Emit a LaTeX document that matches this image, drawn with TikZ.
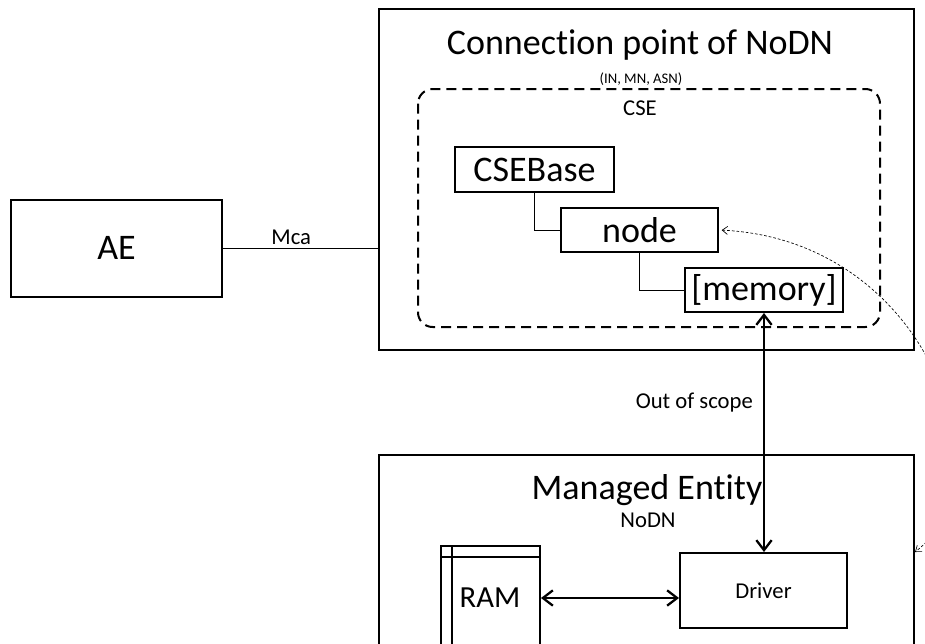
\documentclass[tikz,border=0pt]{standalone}
\usepackage{fontspec}
\setmainfont{Carlito}[Ligatures=NoCommon]
\usetikzlibrary{arrows.meta}

\begin{document}
\begin{tikzpicture}[x=0.75pt,y=-0.75pt,
  box/.style={draw,line width=1.5pt,inner sep=0pt},
  big/.style={font=\fontsize{27}{32}\selectfont},
  mid/.style={font=\fontsize{17}{20}\selectfont},
  link/.style={line width=0.75pt},
  twoway/.style={line width=1.7pt,{Straight Barb[length=7.5pt,width=11.5pt]}-{Straight Barb[length=7.5pt,width=11.5pt]}}]
\useasboundingbox (0,0) rectangle (925,643);
\clip (0,0) rectangle (925,643);

% left side
\node[box,big,minimum width=158.25pt,minimum height=72.75pt] (ae) at (116.5,248) {AE};

% connection point
\node[box,minimum width=401.25pt,minimum height=255.75pt] (cp) at (646.5,179.5) {};
\node[big] (cptitle) at (640,45) {Connection point of NoDN};
\node[font=\fontsize{11}{13}\selectfont] (cpsub) at (641,79) {(IN, MN, ASN)};
\draw[line width=1.5pt,dash pattern=on 7.5pt off 4.5pt,rounded corners=11pt] (418,89) rectangle (880,327);
\node[mid] (cse) at (640,108) {CSE};

\node[box,big,minimum width=119.25pt,minimum height=33.75pt] (cb) at (534.5,169.5) {CSEBase};
\node[box,big,minimum width=117.75pt,minimum height=33pt] (nd) at (639.5,230) {node};
\node[box,big,minimum width=118.5pt,minimum height=33pt] (mem) at (764,290) {[memory]};
\draw[link] (cb.south) |- (nd.west);
\draw[link] (nd.south) |- (mem.west);

\draw[link] (ae.east) -- node[mid,pos=0.44,above=-1pt] {Mca} (ae.east -| cp.west);

% managed entity
\node[box,minimum width=401.25pt,minimum height=183.75pt] (me) at (646.5,577.5) {};
\node[big] (metitle) at (647,490) {Managed Entity};
\node[mid] (mesub) at (648,520) {NoDN};

\node[box,mid,minimum width=125.25pt,minimum height=56.25pt] (drv) at (763.5,590.5) {Driver};
\node[box,minimum width=74.25pt,minimum height=116.25pt,anchor=north west] (ram) at (440,545) {};
\draw[line width=1.5pt] (ram.north west) ++(12,0) -- ++(0,160);
\draw[line width=1.5pt] (ram.north west) ++(0,12) -- (ram.north east |- 0,557);
\node[font=\fontsize{23}{27}\selectfont] (ramlbl) at (490,598) {RAM};

\draw[twoway] (ramlbl -| ram.east) -- (ramlbl -| drv.west);
\draw[twoway] (mem.south) -- node[mid,pos=0.373,left=7.5pt,inner sep=0pt] {Out of scope} (mem.south |- drv.north);

\draw[line width=0.5pt,dash pattern=on 2pt off 1.5pt,{Straight Barb[length=4pt,width=6pt]}-{Straight Barb[length=4pt,width=6pt]},shorten <=2pt]
  (nd.east) .. controls (930,240) and (1010,480) .. (drv.north -| me.east);

\end{tikzpicture}
\end{document}
